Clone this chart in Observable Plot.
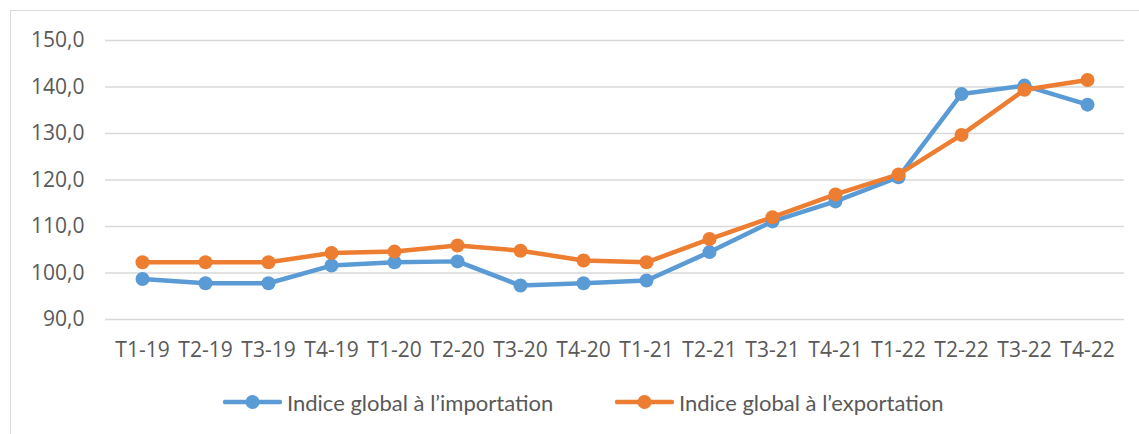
<!DOCTYPE html>
<html>
<head>
<meta charset="utf-8">
<script src="https://cdn.jsdelivr.net/npm/d3@7"></script>
<script src="https://cdn.jsdelivr.net/npm/@observablehq/plot@0.6"></script>
<style>
  html, body { margin: 0; padding: 0; background: #fff; }
  #wrap { position: relative; width: 1139px; height: 434px; overflow: hidden; background: #fff; }
  #frame { position: absolute; left: 10px; top: 10px; width: 1140px; height: 440px; border: 1.5px solid #d9d9d9; box-sizing: border-box; }
  #chart { position: absolute; left: 0; top: 0; }
  #legend { position: absolute; left: 0; top: 384px; width: 1139px; height: 36px; }
  .item { position: absolute; top: 0; height: 36px; display: flex; align-items: center; }
  .item span { font-family: Lato, "Open Sans", sans-serif; font-size: 22px; color: #595959; white-space: nowrap; margin-left: 5px; }
</style>
</head>
<body>
<div id="wrap">
  <div id="frame"></div>
  <div id="chart"></div>
  <div id="legend"></div>
</div>
<script>
const quarters = ["T1-19","T2-19","T3-19","T4-19","T1-20","T2-20","T3-20","T4-20","T1-21","T2-21","T3-21","T4-21","T1-22","T2-22","T3-22","T4-22"];
const importValues = [98.7, 97.8, 97.8, 101.6, 102.3, 102.5, 97.3, 97.8, 98.4, 104.5, 111.1, 115.4, 120.6, 138.5, 140.3, 136.2];
const exportValues = [102.3, 102.3, 102.3, 104.3, 104.6, 105.9, 104.8, 102.7, 102.3, 107.3, 112.0, 116.9, 121.2, 129.7, 139.4, 141.5];
const seriesNames = ["Indice global à l\u2019importation", "Indice global à l\u2019exportation"];
const seriesColors = ["#5B9BD5", "#ED7D31"];
const yTicks = [90, 100, 110, 120, 130, 140, 150];

const data = [];
quarters.forEach((q, i) => {
  data.push({q, v: importValues[i], s: seriesNames[0]});
});
quarters.forEach((q, i) => {
  data.push({q, v: exportValues[i], s: seriesNames[1]});
});

const fmt = v => v.toFixed(1).replace(".", ",");

const plot = Plot.plot({
  width: 1139,
  height: 365,
  marginLeft: 105,
  marginRight: 15,
  marginTop: 40,
  marginBottom: 46,
  style: { fontFamily: "'Open Sans', sans-serif", fontSize: "21px", color: "#595959", background: "transparent", overflow: "visible" },
  x: { type: "point", domain: quarters, padding: 0.5, label: null },
  y: { domain: [90, 150], ticks: yTicks, label: null },
  color: { domain: seriesNames, range: seriesColors },
  marks: [
    Plot.ruleY(yTicks, { stroke: "#d9d9d9", strokeWidth: 1.5 }),
    Plot.axisY({ ticks: yTicks, tickSize: 0, tickPadding: 21, tickFormat: fmt, fill: "#595959", fontSize: 21, label: null }),
    Plot.axisX({ tickSize: 0, tickPadding: 23, fill: "#595959", fontSize: 21, label: null }),
    Plot.line(data, { x: "q", y: "v", z: "s", stroke: "s", strokeWidth: 4.5, strokeLinejoin: "round", strokeLinecap: "round" }),
    Plot.dot(data, { x: "q", y: "v", fill: "s", r: 7, stroke: "none" })
  ]
});
document.getElementById("chart").appendChild(plot);

// Legend
const legend = document.getElementById("legend");
const legendX = [223, 615];
seriesNames.forEach((name, i) => {
  const item = document.createElement("div");
  item.className = "item";
  item.style.left = legendX[i] + "px";
  item.innerHTML = `<svg width="59" height="20"><line x1="2" y1="10" x2="57" y2="10" stroke="${seriesColors[i]}" stroke-width="4.5" stroke-linecap="round"/><circle cx="29.5" cy="10" r="7" fill="${seriesColors[i]}"/></svg><span>${name}</span>`;
  legend.appendChild(item);
});
</script>
</body>
</html>
